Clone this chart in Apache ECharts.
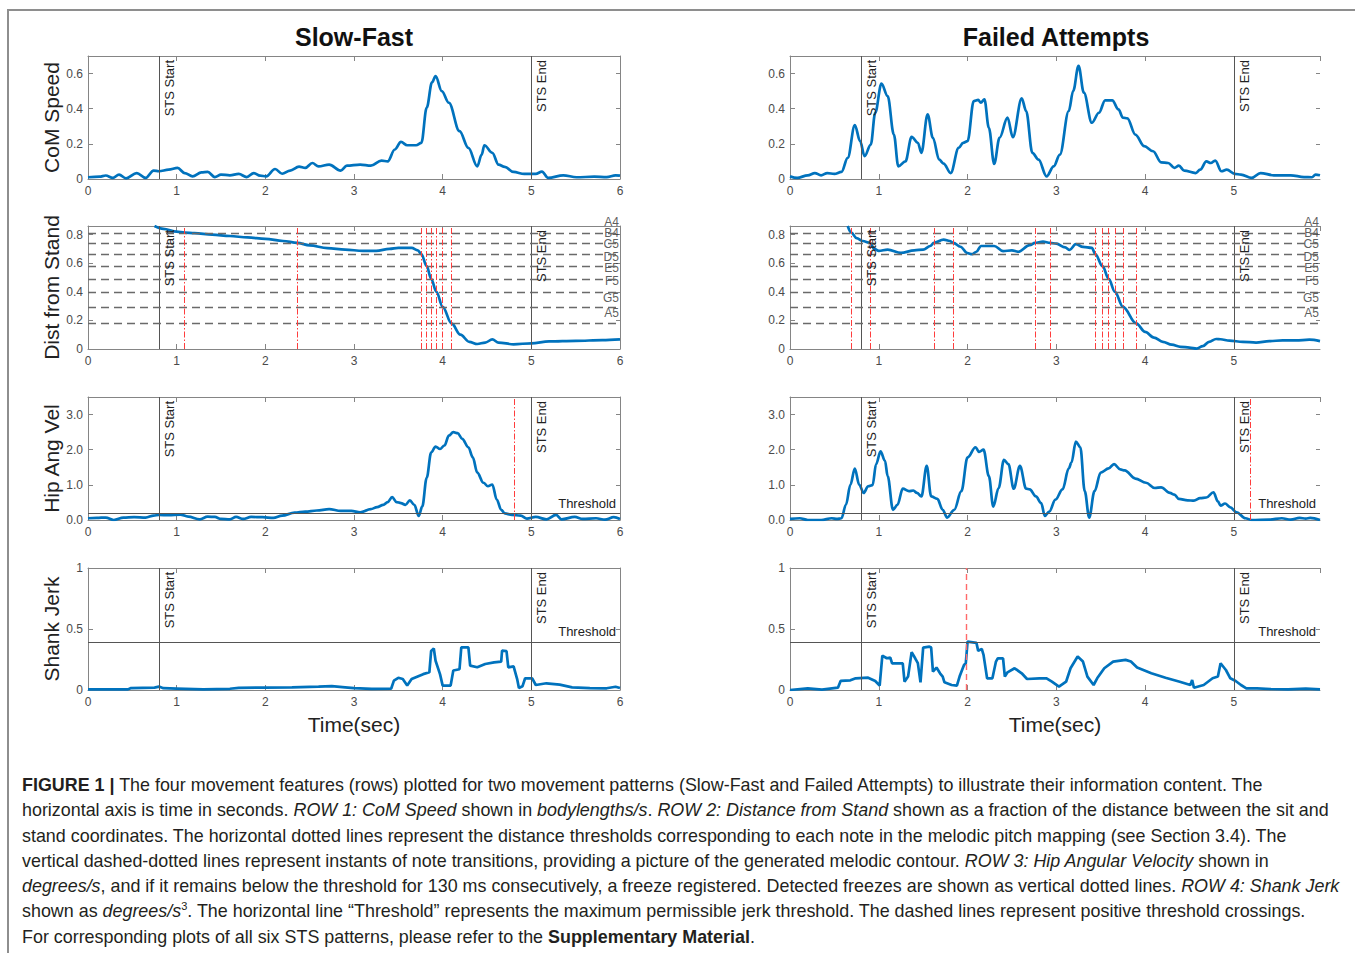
<!DOCTYPE html>
<html>
<head>
<meta charset="utf-8">
<title>STS movement features</title>
<script src="https://cdn.jsdelivr.net/npm/echarts@6/dist/echarts.min.js"></script>
<style>
  html, body { margin: 0; padding: 0; background: #fff; }
  #frame {
    position: absolute; left: 7px; top: 9px; right: 0; bottom: 0;
    border-top: 2px solid #8e8e8e; border-left: 2px solid #8e8e8e;
  }
  #chart { position: absolute; left: 0; top: 0; width: 1355px; height: 760px; }
  #caption {
    position: absolute; left: 22px; top: 773px;
    font-family: 'Liberation Sans', Arial, sans-serif; font-size: 17.9px;
    line-height: 25.3px; color: #231f20; white-space: nowrap;
  }
  #caption sup { font-size: 11px; line-height: 0; }
</style>
</head>
<body>
<div id="frame"></div>
<div id="chart"></div>
<div id="caption">
  <b>FIGURE 1 |</b> The four movement features (rows) plotted for two movement patterns (Slow-Fast and Failed Attempts) to illustrate their information content. The<br>
  horizontal axis is time in seconds. <i>ROW 1: CoM Speed</i> shown in <i>bodylengths/s</i>. <i>ROW 2: Distance from Stand</i> shown as a fraction of the distance between the sit and<br>
  stand coordinates. The horizontal dotted lines represent the distance thresholds corresponding to each note in the melodic pitch mapping (see Section 3.4). The<br>
  vertical dashed-dotted lines represent instants of note transitions, providing a picture of the generated melodic contour. <i>ROW 3: Hip Angular Velocity</i> shown in<br>
  <i>degrees/s</i>, and if it remains below the threshold for 130 ms consecutively, a freeze registered. Detected freezes are shown as vertical dotted lines. <i>ROW 4: Shank Jerk</i><br>
  shown as <i>degrees/s</i><sup>3</sup>. The horizontal line “Threshold” represents the maximum permissible jerk threshold. The dashed lines represent positive threshold crossings.<br>
  For corresponding plots of all six STS patterns, please refer to the <b>Supplementary Material</b>.
</div>

<script>
// column / row labels
const colTitles = ['Slow-Fast', 'Failed Attempts']
const rowNames = ['CoM Speed', 'Dist from Stand', 'Hip Ang Vel', 'Shank Jerk']
const rowMax = [0.7, 0.86, 3.5, 1]
const rowStep = [0.2, 0.2, 1, 0.5]
const colMax = [6, 5.97]

// row 1: CoM speed [time, value]
const comSlowFast = [[0,0.01],[0.13,0.013],[0.2,0.02],[0.28,0.006],[0.35,0.025],[0.43,0.004],[0.55,0.034],[0.65,0.006],[0.74,0.048],[0.8,0.044],[0.91,0.053],[1.01,0.063],[1.09,0.034],[1.18,0.015],[1.28,0.038],[1.35,0.04],[1.43,0.011],[1.5,0.025],[1.6,0.021],[1.7,0.029],[1.79,0.011],[1.87,0.034],[1.94,0.019],[2.01,0.015],[2.11,0.057],[2.19,0.03],[2.28,0.048],[2.38,0.07],[2.45,0.063],[2.53,0.091],[2.6,0.072],[2.72,0.082],[2.85,0.048],[2.92,0.076],[3.07,0.082],[3.19,0.076],[3.31,0.105],[3.38,0.1],[3.46,0.168],[3.53,0.211],[3.6,0.192],[3.7,0.192],[3.76,0.206],[3.82,0.406],[3.88,0.55],[3.92,0.585],[3.99,0.5],[4.07,0.434],[4.19,0.272],[4.29,0.177],[4.39,0.072],[4.44,0.139],[4.47,0.192],[4.56,0.149],[4.63,0.082],[4.7,0.069],[4.8,0.04],[4.92,0.029],[5.05,0.029],[5.12,0.042],[5.19,0.006],[5.36,0.021],[5.51,0.01],[5.71,0.013],[5.85,0.011],[5.95,0.021],[6,0.019]]
const comFailed = [[0,0.015],[0.08,0.006],[0.2,0.021],[0.28,0.034],[0.35,0.021],[0.42,0.034],[0.5,0.029],[0.58,0.04],[0.65,0.12],[0.73,0.307],[0.79,0.215],[0.84,0.13],[0.91,0.196],[0.96,0.377],[1.03,0.543],[1.1,0.472],[1.17,0.253],[1.22,0.072],[1.3,0.1],[1.37,0.24],[1.44,0.206],[1.48,0.149],[1.55,0.368],[1.61,0.234],[1.68,0.11],[1.73,0.088],[1.81,0.034],[1.9,0.177],[1.95,0.206],[2.0,0.215],[2.07,0.444],[2.12,0.45],[2.15,0.434],[2.19,0.453],[2.24,0.291],[2.3,0.086],[2.36,0.234],[2.45,0.349],[2.51,0.238],[2.61,0.459],[2.66,0.387],[2.73,0.149],[2.8,0.11],[2.89,0.015],[2.97,0.072],[3.04,0.139],[3.14,0.387],[3.19,0.501],[3.25,0.644],[3.31,0.491],[3.4,0.32],[3.48,0.377],[3.55,0.448],[3.63,0.448],[3.7,0.396],[3.75,0.349],[3.8,0.345],[3.89,0.253],[3.99,0.187],[4.09,0.158],[4.18,0.095],[4.26,0.091],[4.33,0.063],[4.38,0.076],[4.44,0.048],[4.57,0.034],[4.62,0.053],[4.69,0.1],[4.74,0.091],[4.79,0.105],[4.86,0.044],[4.92,0.053],[5.01,0.029],[5.08,0.025],[5.2,0.006],[5.3,0.034],[5.45,0.021],[5.64,0.021],[5.79,0.011],[5.88,0.01],[5.92,0.025],[5.97,0.021]]

// row 2: distance from stand
const distSlowFast = [[0.75,0.86],[0.85,0.84],[1.0,0.82],[1.09,0.814],[1.2,0.81],[1.4,0.8],[1.6,0.79],[1.8,0.78],[2.0,0.77],[2.2,0.755],[2.36,0.742],[2.5,0.725],[2.7,0.705],[2.9,0.695],[3.1,0.686],[3.25,0.686],[3.4,0.7],[3.5,0.707],[3.65,0.707],[3.72,0.69],[3.76,0.663],[3.82,0.579],[3.87,0.491],[3.93,0.4],[4.0,0.295],[4.1,0.179],[4.2,0.1],[4.3,0.05],[4.39,0.035],[4.48,0.045],[4.56,0.067],[4.63,0.045],[4.8,0.033],[5.0,0.04],[5.2,0.053],[5.5,0.057],[5.8,0.062],[6.0,0.067]]
const distFailed = [[0.65,0.86],[0.69,0.814],[0.75,0.775],[0.82,0.755],[0.9,0.742],[0.95,0.7],[1.0,0.686],[1.1,0.695],[1.25,0.672],[1.4,0.69],[1.5,0.695],[1.58,0.72],[1.62,0.742],[1.73,0.765],[1.8,0.755],[1.84,0.742],[1.92,0.715],[2.0,0.67],[2.05,0.663],[2.1,0.68],[2.15,0.72],[2.3,0.72],[2.4,0.684],[2.5,0.69],[2.57,0.68],[2.7,0.726],[2.76,0.742],[2.85,0.751],[2.93,0.742],[3.0,0.737],[3.1,0.71],[3.15,0.693],[3.22,0.733],[3.3,0.714],[3.4,0.707],[3.44,0.663],[3.52,0.579],[3.59,0.491],[3.66,0.4],[3.75,0.295],[3.9,0.179],[4.0,0.12],[4.1,0.08],[4.2,0.05],[4.3,0.03],[4.4,0.015],[4.5,0.01],[4.58,0.003],[4.65,0.02],[4.72,0.05],[4.8,0.07],[4.85,0.068],[4.95,0.058],[5.1,0.05],[5.25,0.045],[5.4,0.055],[5.55,0.06],[5.7,0.06],[5.85,0.065],[5.97,0.055]]

// row 3: hip angular velocity
const hipSlowFast = [[0,0.05],[0.1,0.06],[0.2,0.07],[0.29,0],[0.4,0.07],[0.52,0.08],[0.65,0.07],[0.74,0.125],[0.8,0.144],[0.91,0.135],[1.04,0.154],[1.13,0.096],[1.26,0.02],[1.35,0.096],[1.43,0.087],[1.5,0.03],[1.6,0.02],[1.67,0.087],[1.75,0.03],[1.84,0.087],[1.97,0.08],[2.09,0.06],[2.19,0.125],[2.33,0.21],[2.45,0.24],[2.58,0.27],[2.72,0.31],[2.85,0.26],[2.97,0.26],[3.07,0.22],[3.19,0.31],[3.26,0.365],[3.33,0.43],[3.38,0.51],[3.43,0.65],[3.48,0.51],[3.53,0.48],[3.58,0.43],[3.63,0.56],[3.68,0.43],[3.73,0.115],[3.77,0.385],[3.82,1.2],[3.87,1.92],[3.92,2.09],[3.97,2.02],[4.02,2.12],[4.07,2.4],[4.12,2.5],[4.17,2.47],[4.22,2.31],[4.29,2.07],[4.34,1.78],[4.39,1.35],[4.46,1.06],[4.51,0.96],[4.56,1.01],[4.61,0.58],[4.66,0.29],[4.7,0.19],[4.78,0.144],[4.88,0.125],[4.95,0.04],[5.05,0.087],[5.17,0.02],[5.28,0.144],[5.34,0.02],[5.49,0.087],[5.58,0.03],[5.73,0.05],[5.83,0.01],[5.93,0.08],[6.0,0.03]]
const hipFailed = [[0,0.03],[0.11,0.05],[0.2,0],[0.35,0],[0.47,0.05],[0.53,0.03],[0.58,0.05],[0.63,0.43],[0.68,1.0],[0.73,1.46],[0.78,1.0],[0.83,0.77],[0.88,0.96],[0.93,0.99],[0.97,1.59],[1.02,1.95],[1.07,1.68],[1.1,1.25],[1.16,0.29],[1.21,0.43],[1.27,0.89],[1.34,0.82],[1.39,0.84],[1.43,0.77],[1.48,0.67],[1.54,1.54],[1.59,0.67],[1.66,0.6],[1.72,0.29],[1.77,0.07],[1.85,0.29],[1.93,0.82],[2.0,1.78],[2.09,2.07],[2.13,1.94],[2.18,2.0],[2.24,1.25],[2.29,0.38],[2.35,0.91],[2.41,1.71],[2.46,1.59],[2.52,0.89],[2.59,1.54],[2.66,0.89],[2.7,0.87],[2.77,0.67],[2.83,0.48],[2.87,0.115],[2.92,0.24],[2.99,0.58],[3.07,0.87],[3.14,1.47],[3.17,1.63],[3.22,2.23],[3.27,2.07],[3.32,0.82],[3.37,0.07],[3.43,0.82],[3.5,1.35],[3.59,1.47],[3.65,1.59],[3.72,1.44],[3.77,1.41],[3.89,1.18],[4.01,1.06],[4.11,0.91],[4.18,0.93],[4.28,0.77],[4.33,0.72],[4.38,0.6],[4.48,0.56],[4.55,0.55],[4.62,0.62],[4.69,0.64],[4.77,0.79],[4.82,0.53],[4.85,0.41],[4.9,0.47],[4.96,0.36],[5.03,0.22],[5.13,0.05],[5.2,0],[5.4,0.01],[5.54,0.05],[5.64,0.01],[5.74,0.06],[5.81,0.04],[5.86,0.06],[5.97,0]]

// row 4: shank jerk
const jerkSlowFast = [[0,0.005],[0.45,0.005],[0.48,0.015],[0.75,0.02],[0.8,0.028],[0.85,0.015],[1.0,0.012],[1.3,0.005],[1.6,0.01],[1.7,0.018],[2.0,0.02],[2.3,0.022],[2.6,0.028],[2.75,0.032],[2.9,0.022],[3.0,0.015],[3.2,0.01],[3.42,0.012],[3.45,0.077],[3.5,0.1],[3.55,0.09],[3.6,0.036],[3.65,0.09],[3.78,0.13],[3.85,0.145],[3.87,0.32],[3.9,0.34],[3.92,0.24],[3.97,0.13],[4.0,0.036],[4.09,0.036],[4.12,0.16],[4.19,0.17],[4.21,0.35],[4.29,0.35],[4.31,0.2],[4.39,0.186],[4.48,0.213],[4.58,0.227],[4.66,0.232],[4.67,0.322],[4.72,0.318],[4.74,0.186],[4.8,0.194],[4.84,0.09],[4.86,0.016],[4.9,0.03],[4.93,0.096],[5.01,0.096],[5.05,0.041],[5.17,0.055],[5.32,0.044],[5.46,0.022],[5.66,0.016],[5.85,0.014],[5.95,0.027],[6.0,0.016]]
const jerkFailed = [[0,0],[0.2,0.014],[0.36,0.003],[0.54,0.019],[0.57,0.074],[0.68,0.079],[0.74,0.096],[0.88,0.101],[0.96,0.074],[1.01,0.036],[1.04,0.282],[1.09,0.26],[1.13,0.266],[1.15,0.219],[1.27,0.219],[1.29,0.068],[1.33,0.11],[1.37,0.31],[1.41,0.26],[1.44,0.22],[1.47,0.063],[1.5,0.348],[1.57,0.356],[1.59,0.348],[1.61,0.151],[1.65,0.184],[1.69,0.137],[1.72,0.11],[1.74,0.063],[1.82,0.041],[1.88,0.036],[1.91,0.11],[1.96,0.205],[1.98,0.219],[2.0,0.397],[2.1,0.386],[2.12,0.321],[2.16,0.337],[2.18,0.288],[2.22,0.096],[2.28,0.096],[2.32,0.233],[2.34,0.26],[2.4,0.26],[2.42,0.11],[2.45,0.145],[2.53,0.178],[2.61,0.137],[2.67,0.09],[2.81,0.096],[2.89,0.096],[2.95,0.068],[3.03,0.027],[3.11,0.068],[3.16,0.178],[3.24,0.274],[3.3,0.233],[3.35,0.11],[3.42,0.041],[3.46,0.096],[3.54,0.178],[3.64,0.233],[3.78,0.247],[3.84,0.233],[3.91,0.184],[4.07,0.137],[4.23,0.101],[4.39,0.068],[4.51,0.041],[4.53,0.082],[4.55,0.019],[4.66,0.041],[4.76,0.096],[4.82,0.11],[4.85,0.219],[4.91,0.164],[4.96,0.096],[5.02,0.074],[5.08,0.041],[5.14,0.014],[5.26,0.014],[5.41,0.008],[5.61,0.005],[5.81,0.011],[5.97,0.005]]

// event markers
const stsTimes = [0.8, 5.0]
const stsLabels = ['STS Start', 'STS End']
const noteThresholds = [0.814, 0.742, 0.663, 0.579, 0.491, 0.4, 0.295, 0.179]
const noteNames = ['A4', 'B4', 'C5', 'D5', 'E5', 'F5', 'G5', 'A5']
const noteLabelY = [0.891, 0.814, 0.737, 0.644, 0.563, 0.474, 0.36, 0.253]
const noteTransSlowFast = [1.09, 2.36, 3.76, 3.82, 3.87, 3.93, 4.0, 4.1]
const noteTransFailed = [0.69, 0.9, 1.62, 1.84, 2.76, 2.93, 3.44, 3.52, 3.59, 3.66, 3.75, 3.9]
const freezeSlowFast = [4.81]
const freezeFailed = [5.18]
const jerkCrossSlowFast = []
const jerkCrossFailed = [1.99]
const hipThreshold = 0.18
const jerkThreshold = 0.39

const curves = [
  [comSlowFast, comFailed],
  [distSlowFast, distFailed],
  [hipSlowFast, hipFailed],
  [jerkSlowFast, jerkFailed]
]

// layout
const gridLeft = [88, 790]
const gridWidth = [532, 530]
const gridTop = [56, 226, 397, 568]
const gridHeight = [123, 123, 123, 122]
const titleX = [354, 1056]

const axisColor = '#858585'
const labelColor = '#4a4a4a'
const fontFamily = "'Liberation Sans', Arial, sans-serif"

function vMark(x, style, text) {
  return {
    xAxis: x,
    lineStyle: style,
    label: text
      ? { show: true, formatter: text, position: 'insideEndBottom', distance: 4, color: '#222', fontSize: 13 }
      : { show: false }
  }
}
function hMark(y, style, text) {
  return {
    yAxis: y,
    lineStyle: style,
    label: text
      ? { show: true, formatter: text, position: 'insideEndTop', distance: 4, color: '#222', fontSize: 13 }
      : { show: false }
  }
}

const stsStyle = { color: '#555', width: 1, type: 'solid' }
const noteStyle = { color: '#6a6a6a', width: 1.3, type: [8, 5] }
const transStyle = { color: '#ff3d3d', width: 1, type: [6, 2, 1.5, 2] }
const crossStyle = { color: '#ff6a6a', width: 1.4, type: [6, 4] }

const grids = []
const xAxes = []
const yAxes = []
const series = []

for (let r = 0; r < 4; r++) {
  for (let c = 0; c < 2; c++) {
    const g = grids.length
    grids.push({ left: gridLeft[c], top: gridTop[r], width: gridWidth[c], height: gridHeight[r] })

    xAxes.push({
      gridIndex: g, type: 'value', position: 'bottom', min: 0, max: colMax[c], interval: 1,
      axisLine: { show: true, onZero: false, lineStyle: { color: axisColor, width: 1 } },
      axisTick: { show: true, inside: true, length: 5, lineStyle: { color: axisColor } },
      axisLabel: { color: labelColor, fontSize: 12, margin: 6, showMaxLabel: c === 0 },
      splitLine: { show: false },
      name: r === 3 ? 'Time(sec)' : '',
      nameLocation: 'middle', nameGap: 24,
      nameTextStyle: { fontSize: 21, color: '#222' }
    })
    xAxes.push({
      gridIndex: g, type: 'value', position: 'top', min: 0, max: colMax[c], interval: 1,
      axisLine: { show: true, onZero: false, lineStyle: { color: axisColor, width: 1 } },
      axisTick: { show: true, inside: true, length: 5, lineStyle: { color: axisColor } },
      axisLabel: { show: false },
      splitLine: { show: false }
    })
    yAxes.push({
      gridIndex: g, type: 'value', position: 'left', min: 0, max: rowMax[r], interval: rowStep[r],
      axisLine: { show: true, onZero: false, lineStyle: { color: axisColor, width: 1 } },
      axisTick: { show: true, inside: true, length: 5, lineStyle: { color: axisColor } },
      axisLabel: {
        color: labelColor, fontSize: 12, margin: 5, showMaxLabel: r === 3,
        formatter: r === 2 ? (v) => v.toFixed(1) : null
      },
      splitLine: { show: false },
      name: c === 0 ? rowNames[r] : '',
      nameLocation: 'middle', nameGap: 25,
      nameTextStyle: { fontSize: 21, color: '#222' }
    })
    yAxes.push({
      gridIndex: g, type: 'value', position: 'right', min: 0, max: rowMax[r], interval: rowStep[r],
      axisLine: { show: c === 0, onZero: false, lineStyle: { color: axisColor, width: 1 } },
      axisTick: { show: true, inside: true, length: 4, lineStyle: { color: axisColor } },
      axisLabel: { show: false },
      splitLine: { show: false }
    })

    // marker lines for this panel
    const marks = stsTimes.map((t, i) => vMark(t, stsStyle, stsLabels[i]))
    if (r === 1) {
      noteThresholds.forEach((v) => marks.push(hMark(v, noteStyle)))
      const trans = c === 0 ? noteTransSlowFast : noteTransFailed
      trans.forEach((t) => marks.push(vMark(t, transStyle)))
    }
    if (r === 2) {
      marks.push(hMark(hipThreshold, stsStyle, 'Threshold'))
      const fr = c === 0 ? freezeSlowFast : freezeFailed
      fr.forEach((t) => marks.push(vMark(t, transStyle)))
    }
    if (r === 3) {
      marks.push(hMark(jerkThreshold, stsStyle, 'Threshold'))
      const cr = c === 0 ? jerkCrossSlowFast : jerkCrossFailed
      cr.forEach((t) => marks.push(vMark(t, crossStyle)))
    }

    series.push({
      type: 'line',
      xAxisIndex: 2 * g,
      yAxisIndex: 2 * g,
      data: curves[r][c],
      symbol: 'none',
      showSymbol: false,
      smooth: r === 3 ? false : 0.35,
      smoothMonotone: 'x',
      lineStyle: { color: '#0072BD', width: 2.7 },
      z: 3,
      silent: true,
      markLine: {
        silent: true,
        symbol: ['none', 'none'],
        animation: false,
        data: marks
      }
    })

    if (r === 1) {
      // note names sit at the right edge, packed tight like the original
      series.push({
        type: 'scatter',
        xAxisIndex: 2 * g,
        yAxisIndex: 2 * g,
        clip: false,
        silent: true,
        symbolSize: 0.1,
        itemStyle: { color: 'rgba(0,0,0,0)' },
        data: noteNames.map((n, i) => ({ name: n, value: [colMax[c], noteLabelY[i]] })),
        label: {
          show: true, position: 'left', distance: 1, formatter: '{b}',
          color: '#333', fontSize: 12, lineHeight: 10
        }
      })
    }
  }
}

const chart = echarts.init(document.getElementById('chart'), null, { renderer: 'svg' })
chart.setOption({
  animation: false,
  backgroundColor: 'transparent',
  textStyle: { fontFamily: fontFamily },
  grid: grids,
  xAxis: xAxes,
  yAxis: yAxes,
  series: series,
  graphic: colTitles.map((t, c) => ({
    type: 'text',
    x: titleX[c],
    y: 37,
    style: {
      text: t,
      font: 'bold 25px ' + fontFamily,
      fill: '#111',
      align: 'center',
      verticalAlign: 'middle'
    }
  }))
})
</script>
</body>
</html>
